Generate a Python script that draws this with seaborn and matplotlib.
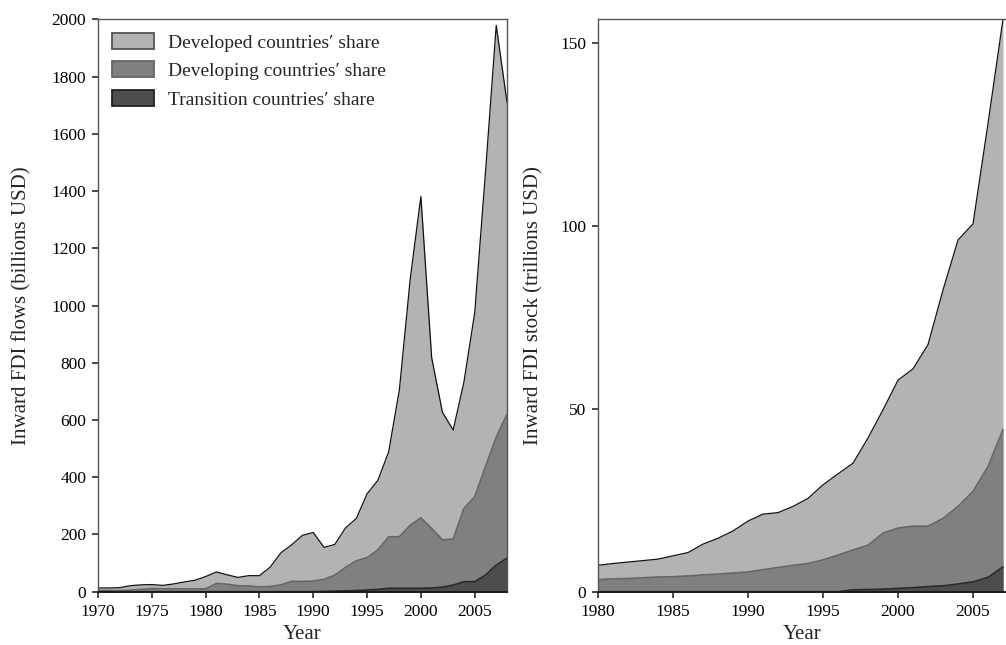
import numpy as np
import pandas as pd
import matplotlib
matplotlib.use("Agg")
import matplotlib.pyplot as plt
import seaborn as sns
from matplotlib.patches import Patch

# ---------------- data ----------------
flow_years = list(range(1970, 2009))
flow_total = [13, 13, 14, 21, 24, 25, 22, 27, 34, 40, 53, 69, 59, 50, 56, 56, 86, 136,
              164, 197, 207, 155, 165, 223, 256, 342, 389, 488, 705, 1090, 1381, 818,
              627, 565, 733, 975, 1465, 1979, 1710]
flow_dev_plus_trans = [4, 4, 4, 5, 8, 11, 10, 10, 10, 10, 10, 29, 26, 21, 20, 17, 18, 24,
                       36, 36, 37, 43, 58, 85, 108, 119, 146, 192, 192, 232, 258, 221,
                       181, 184, 291, 332, 437, 540, 620]
flow_transition = [0, 0, 0, 0, 0, 0, 0, 0, 0, 0, 0, 0, 0, 0, 0, 0, 0, 0,
                   0, 0, 0, 1, 2, 3, 4, 6, 8, 12, 12, 12, 12, 13,
                   16, 23, 35, 35, 58, 93, 117]

stock_years = list(range(1980, 2008))
stock_total = [7.2, 7.7, 8.1, 8.5, 8.9, 9.8, 10.7, 13.0, 14.6, 16.6, 19.3, 21.2, 21.6,
               23.3, 25.5, 29.2, 32.2, 35.1, 42.0, 49.7, 57.8, 60.9, 67.5, 82.4, 96.1,
               100.5, 127.9, 156.4]
stock_dev_plus_trans = [3.3, 3.5, 3.6, 3.8, 4.0, 4.1, 4.3, 4.6, 4.8, 5.1, 5.4, 6.0, 6.6,
                        7.2, 7.7, 8.7, 10.0, 11.4, 12.7, 16.0, 17.4, 17.9, 17.9, 20.0,
                        23.3, 27.4, 34.2, 44.3]
stock_transition = [0, 0, 0, 0, 0, 0, 0, 0, 0, 0, 0, 0, 0, 0, 0, 0, 0, 0.5, 0.6, 0.7,
                    0.9, 1.1, 1.4, 1.6, 2.1, 2.7, 3.9, 6.8]

labels = ["Developed countries\u2032 share", "Developing countries\u2032 share",
          "Transition countries\u2032 share"]
fills = ["#b3b3b3", "#808080", "#4d4d4d"]
edges = ["#111111", "#666666", "#2a2a2a"]

# ---------------- style ----------------
sns.set_theme(style="ticks")
plt.rcParams["font.family"] = ["Liberation Serif", "DejaVu Serif"]
FS = 12.5
LFS = 15
plt.rcParams.update({
    "font.size": FS,
    "axes.labelsize": LFS,
    "xtick.labelsize": FS,
    "ytick.labelsize": FS,
    "axes.edgecolor": "#555555",
    "axes.linewidth": 1.0,
    "xtick.color": "#333333",
    "ytick.color": "#333333",
    "xtick.labelcolor": "black",
    "ytick.labelcolor": "black",
    "xtick.major.size": 4.5,
    "ytick.major.size": 4.5,
    "xtick.major.pad": 4,
    "ytick.major.pad": 4,
})

W, H = 1006, 645
fig = plt.figure(figsize=(W / 100, H / 100), dpi=100)
y0, y1 = 591.7, 19.3
ax1 = fig.add_axes([98 / W, (H - y0) / H, (507 - 98) / W, (y0 - y1) / H])
ax2 = fig.add_axes([598 / W, (H - y0) / H, (1006 - 598) / W, (y0 - y1) / H])


def draw(ax, years, total, mid, trans):
    df = pd.DataFrame({"year": years, "total": total, "mid": mid, "trans": trans})
    ax.fill_between(df["year"], 0, df["total"], color=fills[0], lw=0, zorder=1)
    ax.fill_between(df["year"], 0, df["mid"], color=fills[1], lw=0, zorder=2)
    ax.fill_between(df["year"], 0, df["trans"], color=fills[2], lw=0, zorder=3)
    sns.lineplot(data=df, x="year", y="total", ax=ax, color=edges[0], lw=0.9, zorder=4)
    sns.lineplot(data=df, x="year", y="mid", ax=ax, color=edges[1], lw=1.2, zorder=4)
    sns.lineplot(data=df, x="year", y="trans", ax=ax, color=edges[2], lw=1.2, zorder=4)


draw(ax1, flow_years, flow_total, flow_dev_plus_trans, flow_transition)
draw(ax2, stock_years, stock_total, stock_dev_plus_trans, stock_transition)

ax1.set_xlim(1970, 2008)
ax1.set_ylim(0, 2000)
ax1.set_xticks(range(1970, 2008, 5))
ax1.set_yticks(range(0, 2001, 200))
ax1.set_xlabel("Year")
ax1.set_ylabel("Inward FDI flows (billions USD)")

ax2.set_xlim(1980, 2007.2)
ax2.set_ylim(0, 156.4)
ax2.set_xticks(range(1980, 2008, 5))
ax2.set_yticks([0, 50, 100, 150])
ax2.set_xlabel("Year")
ax2.set_ylabel("Inward FDI stock (trillions USD)")
ax2.spines["right"].set_visible(False)

for ax in (ax1, ax2):
    ax.tick_params(top=False, right=False)
    for sp in ax.spines.values():
        sp.set_zorder(6)
    ax.spines["bottom"].set_color("#1a1a1a")
    ax.spines["bottom"].set_linewidth(1.4)

ax1.yaxis.set_label_coords(-0.186, 0.5)
ax1.yaxis.label.set_va("center")
ax2.yaxis.set_label_coords(-0.158, 0.5)
ax2.yaxis.label.set_va("center")
ax1.xaxis.set_label_coords(0.5, -0.059)
ax2.xaxis.set_label_coords(0.5, -0.059)

handles = [Patch(facecolor=fills[0], edgecolor="#555555", lw=1.3),
           Patch(facecolor=fills[1], edgecolor="#666666", lw=1.3),
           Patch(facecolor=fills[2], edgecolor="#222222", lw=1.3)]
GFS = 14
ax1.legend(handles, labels, loc="upper left", frameon=False, fontsize=GFS,
           handlelength=2.16, handleheight=0.9, handletextpad=0.72,
           labelspacing=0.5, borderpad=0.4, borderaxespad=0.0,
           bbox_to_anchor=(0.015, 0.99))

fig.savefig("out.png", dpi=100)
